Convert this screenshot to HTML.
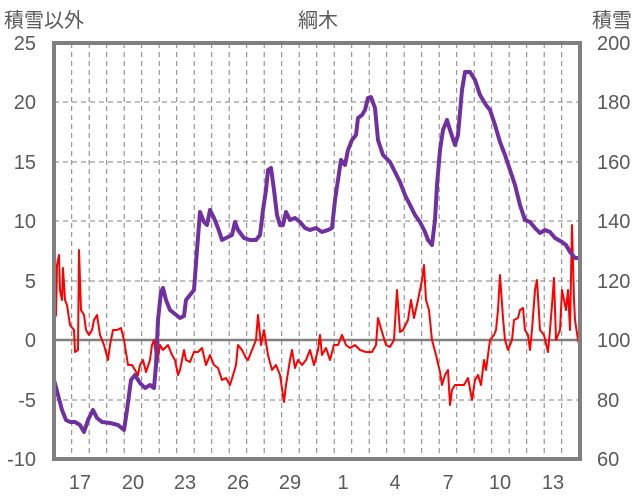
<!DOCTYPE html><html><head><meta charset="utf-8"><style>body{margin:0;background:#fff}svg{display:block;font-family:"Liberation Sans","Noto Sans CJK JP",sans-serif}</style></head><body>
<svg width="636" height="501" xmlns="http://www.w3.org/2000/svg">
<g fill="#595959" font-size="20">
<text x="4" y="27">積雪以外</text>
<text x="318" y="27" text-anchor="middle">綱木</text>
<text x="632" y="27" text-anchor="end">積雪</text>
<g text-anchor="end">
<text x="36" y="50">25</text><text x="36" y="109">20</text><text x="36" y="169">15</text><text x="36" y="228">10</text><text x="36" y="288">5</text><text x="36" y="347">0</text><text x="36" y="407">-5</text><text x="36" y="466">-10</text></g>
<g><text x="597" y="50">200</text><text x="597" y="109">180</text><text x="597" y="169">160</text><text x="597" y="228">140</text><text x="597" y="288">120</text><text x="597" y="347">100</text><text x="597" y="407">80</text><text x="597" y="466">60</text></g>
<g text-anchor="middle"><text x="80" y="489">17</text><text x="133" y="489">20</text><text x="185" y="489">23</text><text x="238" y="489">26</text><text x="290" y="489">29</text><text x="343" y="489">1</text><text x="395" y="489">4</text><text x="448" y="489">7</text><text x="500" y="489">10</text><text x="553" y="489">13</text></g>
</g>
<g stroke="#808080" stroke-width="1" stroke-dasharray="5,4" fill="none">
<path d="M54 102H580M54 162H580M54 221H580M54 281H580M54 400H580"/>
<path d="M71.7 43V459M89.2 43V459M106.7 43V459M124.2 43V459M141.7 43V459M159.2 43V459M176.7 43V459M194.2 43V459M211.7 43V459M229.2 43V459M246.7 43V459M264.2 43V459M281.7 43V459M299.2 43V459M316.7 43V459M334.2 43V459M351.7 43V459M369.2 43V459M386.7 43V459M404.2 43V459M421.7 43V459M439.2 43V459M456.7 43V459M474.2 43V459M491.7 43V459M509.2 43V459M526.7 43V459M544.2 43V459M561.7 43V459"/>
</g>
<path d="M54 340H580" stroke="#808080" stroke-width="2.5"/>
<polyline fill="none" stroke="#ff0000" stroke-width="2" stroke-linejoin="round" points="54,320 56,315 57,265 59,255 60,290 62,300 63,268 65,300 67,305 70,325 74,330 75,352 78,350 79,250 81,310 84,315 86,330 89,335 92,330 94,320 97,315 100,335 104,345 108,360 110,345 113,330 117,330 121,328 124,340 128,365 132,365 135,370 138,375 140,365 143,360 146,372 150,360 152,345 154,340 157,365 160,345 163,350 168,345 172,355 175,360 178,375 180,370 184,350 186,360 190,362 194,352 198,352 202,348 206,365 210,355 214,365 218,368 222,380 226,378 230,385 234,372 236,365 238,345 242,350 246,358 248,360 252,350 256,340 258,315 261,345 264,330 268,355 272,370 276,365 280,375 284,402 286,385 290,360 292,350 295,368 298,360 302,365 306,360 310,350 314,365 318,350 320,335 322,355 326,348 330,360 334,345 338,345 342,335 346,345 350,348 355,345 360,350 366,352 372,352 376,345 378,318 382,332 386,345 390,347 394,340 397,290 400,332 403,330 408,320 411,300 414,318 418,300 422,280 424,265 426,300 429,310 432,340 436,355 440,372 442,385 445,375 448,370 450,405 452,390 455,385 460,385 464,385 468,378 472,400 475,380 478,375 481,385 484,360 486,370 490,340 494,335 496,330 498,310 500,275 503,318 505,340 508,350 512,340 514,320 518,318 520,310 523,308 525,330 528,335 530,350 532,330 535,290 537,280 540,330 544,335 548,352 550,330 552,305 554,278 556,340 560,330 562,290 566,310 568,290 570,330 572,225 574,300 575,320 578,340 580,348"/>
<polyline fill="none" stroke="#7030a0" stroke-width="4" stroke-linejoin="round" points="54,380 58,395 62,410 66,420 70,422 75,422 80,425 84,432 88,420 93,410 97,418 102,422 110,423 118,425 124,430 127,410 131,380 135,375 140,383 145,388 150,385 154,388 156,365 158,320 161,292 163,288 166,300 170,310 175,314 180,318 184,316 186,300 190,295 194,290 197,250 200,212 204,222 207,225 210,210 214,218 218,228 222,240 228,237 232,235 235,222 238,230 244,238 250,240 256,240 260,235 263,210 266,190 268,170 271,168 274,190 277,215 280,225 283,225 286,212 290,220 295,218 300,222 305,228 310,230 316,228 322,232 328,230 332,228 335,200 338,180 341,160 345,165 348,150 352,140 356,135 358,118 362,115 365,110 368,98 371,97 375,108 378,140 383,155 390,162 395,172 400,182 405,195 410,205 415,215 420,222 425,232 428,240 432,245 435,220 437,185 440,150 443,130 447,120 450,130 455,145 458,135 462,90 465,72 470,72 475,80 480,95 486,105 490,110 495,125 500,142 505,155 510,170 515,185 520,205 525,220 530,222 535,228 540,233 545,230 550,232 555,238 562,242 566,245 570,252 575,258 578,258"/>
<rect x="54" y="43" width="526" height="416" fill="none" stroke="#808080" stroke-width="4"/>
</svg>
</body></html>
